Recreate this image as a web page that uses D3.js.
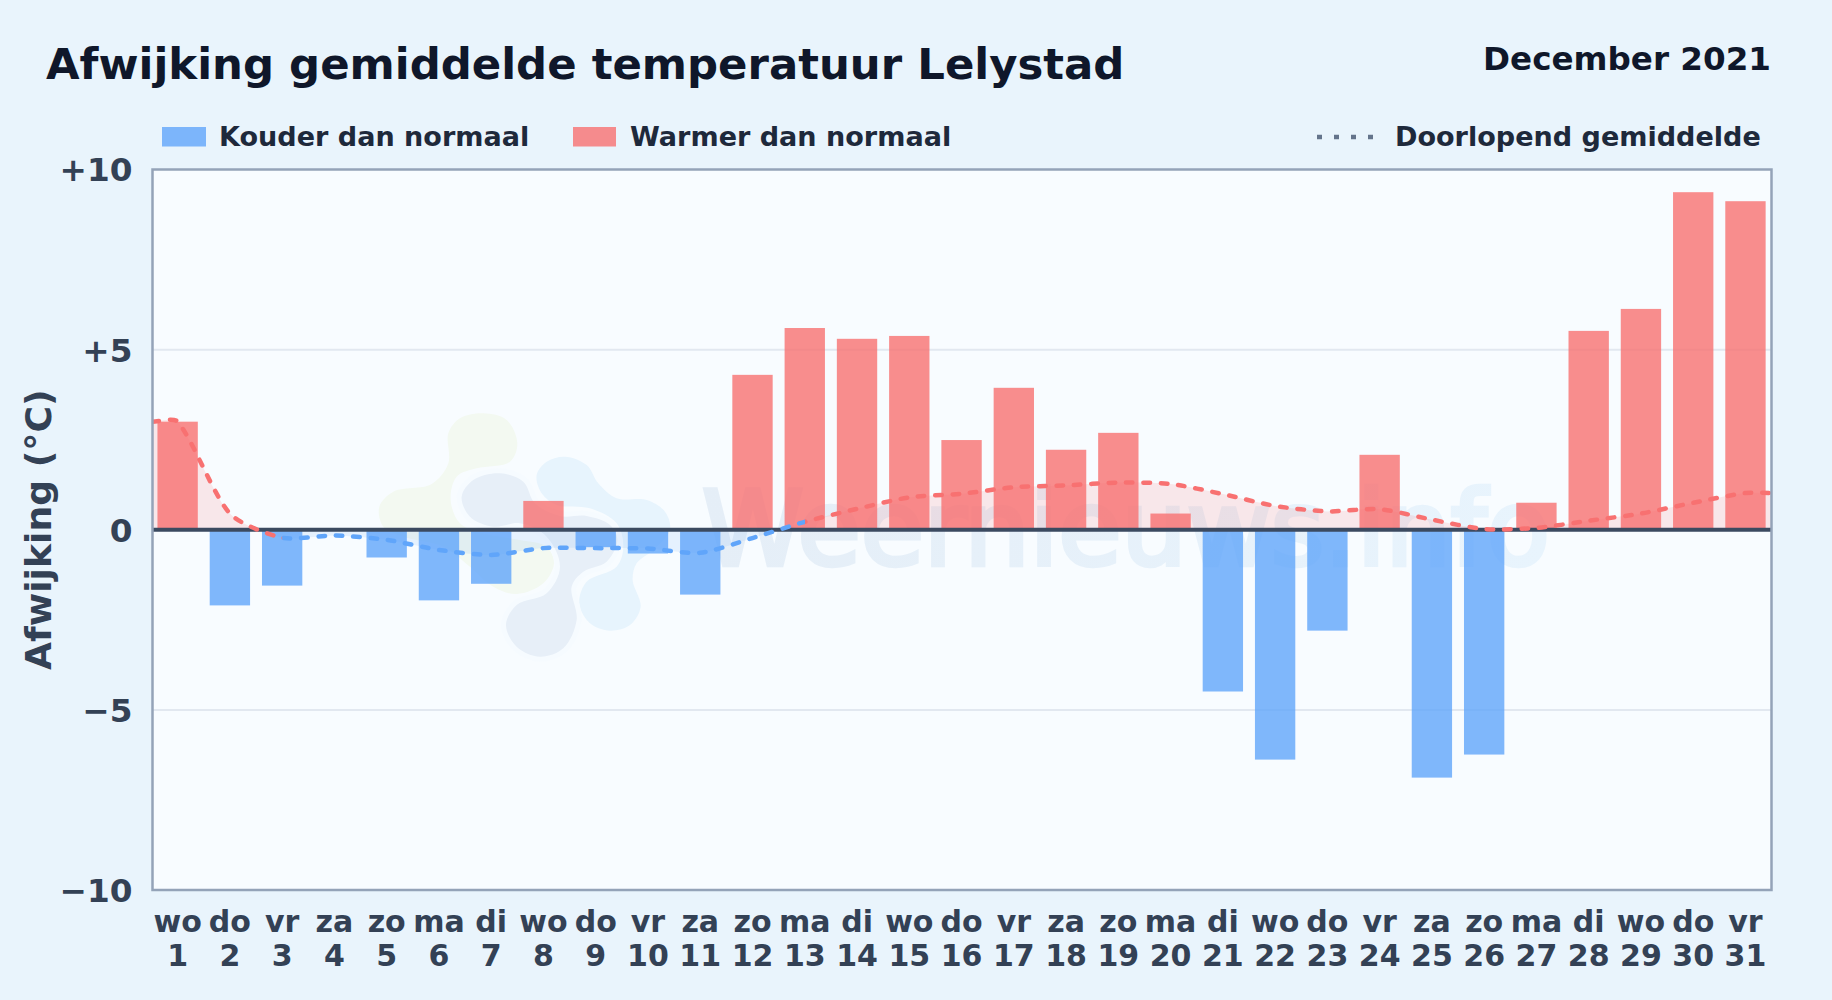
<!DOCTYPE html>
<html>
<head>
<meta charset="utf-8">
<script src="https://cdn.jsdelivr.net/npm/d3@7"></script>
<style>
  html, body { margin: 0; padding: 0; background: #e9f4fc; }
  svg { display: block; font-family: "DejaVu Sans", sans-serif; font-weight: 700; }
</style>
</head>
<body>
<div id="chart"></div>
<script>
const weekdays = ["wo","do","vr","za","zo","ma","di","wo","do","vr","za","zo","ma","di","wo","do","vr","za","zo","ma","di","wo","do","vr","za","zo","ma","di","wo","do","vr"];
const days = [1,2,3,4,5,6,7,8,9,10,11,12,13,14,15,16,17,18,19,20,21,22,23,24,25,26,27,28,29,30,31];
const deviation = [3.0,-2.1,-1.55,0,-0.77,-1.96,-1.5,0.8,-0.48,-0.66,-1.8,4.3,5.6,5.3,5.38,2.49,3.94,2.22,2.69,0.45,-4.49,-6.38,-2.8,2.08,-6.88,-6.24,0.75,5.52,6.13,9.37,9.12];
const runningMean = [3.0,0.45,-0.22,-0.16,-0.28,-0.56,-0.7,-0.51,-0.51,-0.52,-0.64,-0.23,0.22,0.58,0.9,1.0,1.18,1.23,1.31,1.27,0.99,0.66,0.51,0.57,0.28,0.02,0.05,0.25,0.45,0.75,1.02];
const yTicks = [10,5,0,-5,-10];
const yTickLabels = ["+10","+5","0","\u22125","\u221210"];

const width = 1832, height = 1000;
const margin = { top: 169.5, right: 60.5, bottom: 110, left: 152.5 };

const svg = d3.select("#chart").append("svg")
  .attr("width", width)
  .attr("height", height);

const x = d3.scaleBand()
  .domain(days)
  .range([151.5, 1771.6])
  .paddingInner(0.228)
  .paddingOuter(0.114);

const y = d3.scaleLinear()
  .domain([-10, 10])
  .range([height - margin.bottom, margin.top]);

const plotW = width - margin.left - margin.right;
const plotH = height - margin.top - margin.bottom;
const cx = d => x(d) + x.bandwidth() / 2;

// background
svg.append("rect").attr("width", width).attr("height", height).attr("fill", "#e9f4fc");
svg.append("rect")
  .attr("x", margin.left).attr("y", margin.top)
  .attr("width", plotW).attr("height", plotH)
  .attr("fill", "#f8fcff");

// watermark logo, outlines traced at 3x
const blobs = [
  { fill: "#f3f9f1", halo: 0, pts: [[265,130],[300,85],[370,70],[440,90],[472,160],[450,215],[350,235],[290,260],[272,330],[300,400],[370,430],[480,450],[560,470],[582,520],[550,580],[470,612],[400,590],[330,530],[250,470],[130,440],[70,410],[58,350],[100,305],[215,282],[265,220]] },
  { fill: "#e7f4fd", halo: 0, pts: [[530,255],[560,215],[615,200],[680,225],[715,280],[770,325],[860,330],[915,365],[930,420],[880,480],[830,520],[818,570],[842,650],[810,705],[750,722],[690,700],[658,640],[680,575],[770,530],[790,470],[770,400],[690,355],[590,345],[545,310]] },
  { fill: "#e7eff8", halo: 30, pts: [[305,320],[340,270],[420,250],[490,275],[525,340],[600,378],[680,378],[750,405],[772,450],[740,515],[670,545],[635,590],[650,690],[610,775],[540,800],[470,770],[438,705],[470,645],[560,610],[600,530],[560,440],[480,400],[400,410],[330,380]] }
];
const blobLine = d3.line().curve(d3.curveCatmullRomClosed.alpha(0.5));
svg.append("g")
  .attr("transform", "translate(360,390) scale(0.3333)")
  .selectAll("path")
  .data(blobs)
  .join("path")
  .attr("d", d => blobLine(d.pts))
  .attr("fill", d => d.fill)
  .attr("stroke", d => d.halo ? "#f6fbff" : "none")
  .attr("stroke-width", d => d.halo)
  .attr("paint-order", "stroke");

const defs = svg.append("defs");
const wmGrad = defs.append("linearGradient").attr("id", "wm");
wmGrad.append("stop").attr("offset", "0%").attr("stop-color", "#e5eef7");
wmGrad.append("stop").attr("offset", "100%").attr("stop-color", "#e8f4fd");

svg.append("text")
  .attr("x", 702).attr("y", 565)
  .attr("font-size", 102.8)
  .attr("font-weight", 400)
  .attr("fill", "url(#wm)")
  .attr("stroke", "url(#wm)")
  .attr("stroke-width", 4.5)
  .text("Weernieuws.info");

// grid lines
svg.append("g")
  .selectAll("line")
  .data(yTicks.filter(d => d === 5 || d === -5))
  .join("line")
  .attr("x1", margin.left).attr("x2", margin.left + plotW)
  .attr("y1", d => y(d)).attr("y2", d => y(d))
  .attr("stroke", "#e2e8f0")
  .attr("stroke-width", 2);

// fill clips above / below zero
defs.append("clipPath").attr("id", "above").append("rect")
  .attr("x", margin.left).attr("y", margin.top)
  .attr("width", plotW).attr("height", y(0) - margin.top);
defs.append("clipPath").attr("id", "below").append("rect")
  .attr("x", margin.left).attr("y", y(0))
  .attr("width", plotW).attr("height", margin.top + plotH - y(0));

// the mean runs flat out to both plot edges
const meanPts = [[margin.left, y(runningMean[0])]]
  .concat(days.map((d, i) => [cx(d), y(runningMean[i])]))
  .concat([[margin.left + plotW, y(runningMean[runningMean.length - 1])]]);

// same bezier handles as a chart.js line with tension
function splinePath(pts, t) {
  const p = d3.path();
  const handles = pts.map((cur, i) => {
    const prev = pts[Math.max(i - 1, 0)], next = pts[Math.min(i + 1, pts.length - 1)];
    const d01 = Math.hypot(cur[0] - prev[0], cur[1] - prev[1]);
    const d12 = Math.hypot(next[0] - cur[0], next[1] - cur[1]);
    const s = d01 + d12 || 1;
    const fa = t * d01 / s, fb = t * d12 / s;
    return {
      inn: [cur[0] - fa * (next[0] - prev[0]), cur[1] - fa * (next[1] - prev[1])],
      out: [cur[0] + fb * (next[0] - prev[0]), cur[1] + fb * (next[1] - prev[1])]
    };
  });
  p.moveTo(pts[0][0], pts[0][1]);
  for (let i = 1; i < pts.length; i++) {
    p.bezierCurveTo(handles[i - 1].out[0], handles[i - 1].out[1], handles[i].inn[0], handles[i].inn[1], pts[i][0], pts[i][1]);
  }
  return p.toString();
}
const meanPath = splinePath(meanPts, 0.25);
const meanArea = meanPath + `L${margin.left + plotW},${y(0)}L${margin.left},${y(0)}Z`;

svg.append("g").selectAll("path")
  .data([
    { clip: "url(#above)", fill: "rgba(248,113,113,0.15)" },
    { clip: "url(#below)", fill: "rgba(96,165,250,0.12)" }
  ])
  .join("path")
  .attr("clip-path", d => d.clip)
  .attr("d", meanArea)
  .attr("fill", d => d.fill);

// bars
svg.append("g")
  .selectAll("rect")
  .data(days.filter((d, i) => deviation[i] !== 0))
  .join("rect")
  .attr("x", d => x(d))
  .attr("width", x.bandwidth())
  .attr("y", d => y(Math.max(0, deviation[d - 1])))
  .attr("height", d => Math.abs(y(deviation[d - 1]) - y(0)))
  .attr("fill", d => deviation[d - 1] < 0 ? "#60a5fa" : "#f87171")
  .attr("fill-opacity", 0.8);

// zero line
svg.append("line")
  .attr("x1", margin.left).attr("x2", margin.left + plotW)
  .attr("y1", y(0)).attr("y2", y(0))
  .attr("stroke", "#3b4a60")
  .attr("stroke-width", 4);

// each stretch of the mean takes its colour from the point it starts at
const warmClip = defs.append("clipPath").attr("id", "warm");
const coldClip = defs.append("clipPath").attr("id", "cold");
meanPts.slice(0, -1).forEach((p, i) => {
  const v = runningMean[Math.max(i - 1, 0)];
  (v >= 0 ? warmClip : coldClip).append("rect")
    .attr("x", p[0]).attr("y", 0)
    .attr("width", meanPts[i + 1][0] - p[0] + 0.3)
    .attr("height", height);
});
svg.append("g").selectAll("path")
  .data([
    { clip: "url(#warm)", stroke: "#f87171" },
    { clip: "url(#cold)", stroke: "#60a5fa" }
  ])
  .join("path")
  .attr("clip-path", d => d.clip)
  .attr("d", meanPath)
  .attr("fill", "none")
  .attr("stroke", d => d.stroke)
  .attr("stroke-width", 4.5)
  .attr("stroke-linecap", "round")
  .attr("stroke-dasharray", "6.5 10.9");

// plot border
svg.append("rect")
  .attr("x", margin.left).attr("y", margin.top)
  .attr("width", plotW).attr("height", plotH)
  .attr("fill", "none")
  .attr("stroke", "#94a3b8")
  .attr("stroke-width", 2.5);

// y axis
const yAxis = svg.append("g")
  .attr("transform", `translate(${margin.left},1)`)
  .call(d3.axisLeft(y).tickValues(yTicks).tickSize(0).tickPadding(20)
    .tickFormat((d, i) => yTickLabels[i]));
yAxis.select(".domain").remove();
yAxis.selectAll("text")
  .attr("font-size", 32.7)
  .attr("font-family", "DejaVu Sans")
  .attr("font-weight", 700)
  .attr("fill", "#334155");

// x axis, weekday over day number
const xAxis = svg.append("g")
  .attr("transform", `translate(0,${y(-10)})`)
  .call(d3.axisBottom(x).tickSize(0).tickPadding(0).tickFormat(""));
xAxis.select(".domain").remove();
xAxis.selectAll("text").each(function (d, i) {
  const t = d3.select(this)
    .attr("y", 0).attr("dy", null)
    .attr("font-size", 30)
    .attr("font-family", "DejaVu Sans")
    .attr("font-weight", 700)
    .attr("fill", "#334155");
  t.append("tspan").attr("x", 0).attr("y", 42).text(weekdays[i]);
  t.append("tspan").attr("x", 0).attr("y", 76).text(d);
});

// titles
svg.append("text")
  .attr("x", 46).attr("y", 79)
  .attr("font-size", 43.4)
  .attr("fill", "#0f172a")
  .text("Afwijking gemiddelde temperatuur Lelystad");
svg.append("text")
  .attr("x", 1771).attr("y", 70)
  .attr("text-anchor", "end")
  .attr("font-size", 32.6)
  .attr("fill", "#0f172a")
  .text("December 2021");
svg.append("text")
  .attr("transform", `translate(51,${y(0)}) rotate(-90)`)
  .attr("text-anchor", "middle")
  .attr("font-size", 36.2)
  .attr("fill", "#334155")
  .text("Afwijking (\u00b0C)");

// legend
const legendItems = [
  { sx: 162, sw: 44, tx: 219, color: "#60a5fa", label: "Kouder dan normaal" },
  { sx: 573, sw: 43, tx: 630, color: "#f87171", label: "Warmer dan normaal" }
];
legendItems.forEach(d => {
  svg.append("rect")
    .attr("x", d.sx).attr("y", 127).attr("width", d.sw).attr("height", 19.5)
    .attr("fill", d.color).attr("fill-opacity", 0.8);
  svg.append("text")
    .attr("x", d.tx).attr("y", 146)
    .attr("font-size", 27.05).attr("fill", "#1e293b")
    .text(d.label);
});
svg.append("line")
  .attr("x1", 1317).attr("x2", 1374)
  .attr("y1", 137).attr("y2", 137)
  .attr("stroke", "#64748b")
  .attr("stroke-width", 4.5)
  .attr("stroke-dasharray", "5 12");
svg.append("text")
  .attr("x", 1395).attr("y", 146)
  .attr("font-size", 27.05).attr("fill", "#1e293b")
  .text("Doorlopend gemiddelde");
</script>
</body>
</html>
